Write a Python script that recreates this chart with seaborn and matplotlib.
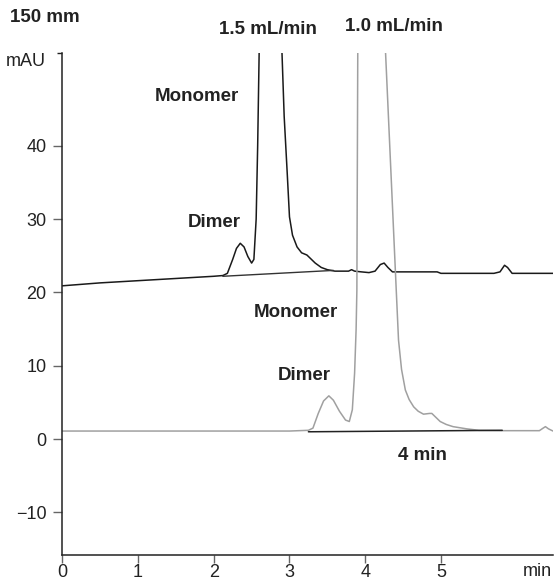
import matplotlib
matplotlib.use("Agg")
import matplotlib.pyplot as plt
import seaborn as sns

# trace at 1.5 mL/min (black), time in min, signal in mAU
fast_time = [0.0, 0.5, 1.0, 1.5, 2.0, 2.12, 2.18, 2.25, 2.3, 2.35, 2.4, 2.45, 2.5,
             2.53, 2.56, 2.58, 2.6, 2.67, 2.9, 2.93, 2.97, 3.0, 3.04, 3.1, 3.16,
             3.23, 3.28, 3.34, 3.42, 3.5, 3.6, 3.7, 3.78, 3.82, 3.86, 3.95, 4.05,
             4.13, 4.2, 4.25, 4.3, 4.36, 4.5, 4.95, 5.0, 5.7, 5.78, 5.84, 5.88,
             5.94, 6.48]
fast_mau = [20.9, 21.3, 21.6, 21.9, 22.2, 22.3, 22.6, 24.5, 26.0, 26.7, 26.2, 24.9, 24.0,
            24.5, 30.0, 40.0, 53.0, 105.0, 53.0, 44.0, 36.3, 30.3, 27.8, 26.2, 25.4,
            25.1, 24.6, 24.0, 23.4, 23.1, 22.9, 22.9, 22.9, 23.1, 22.9, 22.8, 22.7,
            22.9, 23.8, 24.0, 23.4, 22.8, 22.8, 22.8, 22.6, 22.6, 22.8, 23.7, 23.4,
            22.6, 22.6]

# trace at 1.0 mL/min (gray)
slow_time = [0.0, 3.0, 3.25, 3.31, 3.38, 3.45, 3.52, 3.58, 3.66, 3.74, 3.79, 3.83,
             3.86, 3.88, 3.89, 3.93, 4.27, 4.41, 4.44, 4.48, 4.53, 4.58, 4.64, 4.7,
             4.77, 4.85, 4.88, 4.93, 4.99, 5.07, 5.16, 5.34, 5.5, 5.8, 6.3, 6.35,
             6.38, 6.42, 6.48]
slow_mau = [1.1, 1.1, 1.2, 1.5, 3.5, 5.2, 5.9, 5.3, 3.8, 2.6, 2.4, 4.0,
            9.0, 15.0, 20.3, 130.0, 52.4, 20.3, 13.5, 9.5, 6.7, 5.4, 4.4, 3.8,
            3.4, 3.5, 3.5, 3.0, 2.4, 2.0, 1.7, 1.4, 1.2, 1.15, 1.15, 1.5,
            1.7, 1.4, 1.1]

# integration baselines
fast_base_time = [2.12, 3.58]
fast_base_mau = [22.2, 23.0]
slow_base_time = [3.25, 5.81]
slow_base_mau = [1.0, 1.2]

x_ticks = [0, 1, 2, 3, 4, 5]
y_ticks = [-10, 0, 10, 20, 30, 40]

sns.set_theme(style="ticks")
plt.rcParams['font.family'] = ['Liberation Sans', 'DejaVu Sans']

fig = plt.figure(figsize=(5.56, 5.84), dpi=100)
ax = fig.add_axes([62.3 / 556, 29 / 584, (553 - 62.3) / 556, (555 - 53.3) / 584])

sns.lineplot(x=fast_time, y=fast_mau, ax=ax, color="#1a1a1a", linewidth=1.1,
             estimator=None)
sns.lineplot(x=slow_time, y=slow_mau, ax=ax, color="#a0a0a0", linewidth=1.1,
             estimator=None)
sns.lineplot(x=fast_base_time, y=fast_base_mau, ax=ax, color="#333333",
             linewidth=1.0, estimator=None)
sns.lineplot(x=slow_base_time, y=slow_base_mau, ax=ax, color="#222222",
             linewidth=1.1, estimator=None)

ax.set_xlim(0, 6.48)
ax.set_ylim(-15.8, 52.6)
ax.set_xticks(x_ticks)
ax.set_yticks(y_ticks)
ax.set_yticklabels(["\u221210" if v < 0 else str(v) for v in y_ticks])
ax.set_yticks([52.6], minor=True)
ax.tick_params(axis="both", which="major", length=6.5, width=1, color="#666666",
               labelsize=13, labelcolor="#222222")
ax.tick_params(axis="x", which="major", length=5.8, pad=1)
ax.tick_params(axis="y", which="major", pad=5)
ax.tick_params(axis="y", which="minor", length=3.5, width=1, color="#222222")
for side in ["left", "bottom"]:
    ax.spines[side].set_color("#222222")
    ax.spines[side].set_linewidth(1.1)
sns.despine(ax=ax)
ax.set_xlabel("")
ax.set_ylabel("")

txt = dict(color="#222222", fontsize=13.5, fontweight="bold", ha="center",
           va="center", clip_on=False)
ax.text(2.71, 55.8, "1.5 mL/min", **txt)
ax.text(4.375, 56.2, "1.0 mL/min", **txt)
ax.text(1.78, 46.7, "Monomer", **txt)
ax.text(2.0, 29.6, "Dimer", **txt)
ax.text(3.09, 17.3, "Monomer", **txt)
ax.text(3.19, 8.7, "Dimer", **txt)
ax.text(4.75, -2.2, "4 min", **txt)

fig.text(10 / 556, 1 - 18 / 584, "150 mm", color="#222222", fontsize=13.5,
         fontweight="bold", ha="left", va="center")
fig.text(6 / 556, 1 - 62 / 584, "mAU", color="#222222", fontsize=13,
         ha="left", va="center")
fig.text(552 / 556, 1 - 572 / 584, "min", color="#222222", fontsize=13,
         ha="right", va="center")

fig.savefig("out.png", dpi=100)
